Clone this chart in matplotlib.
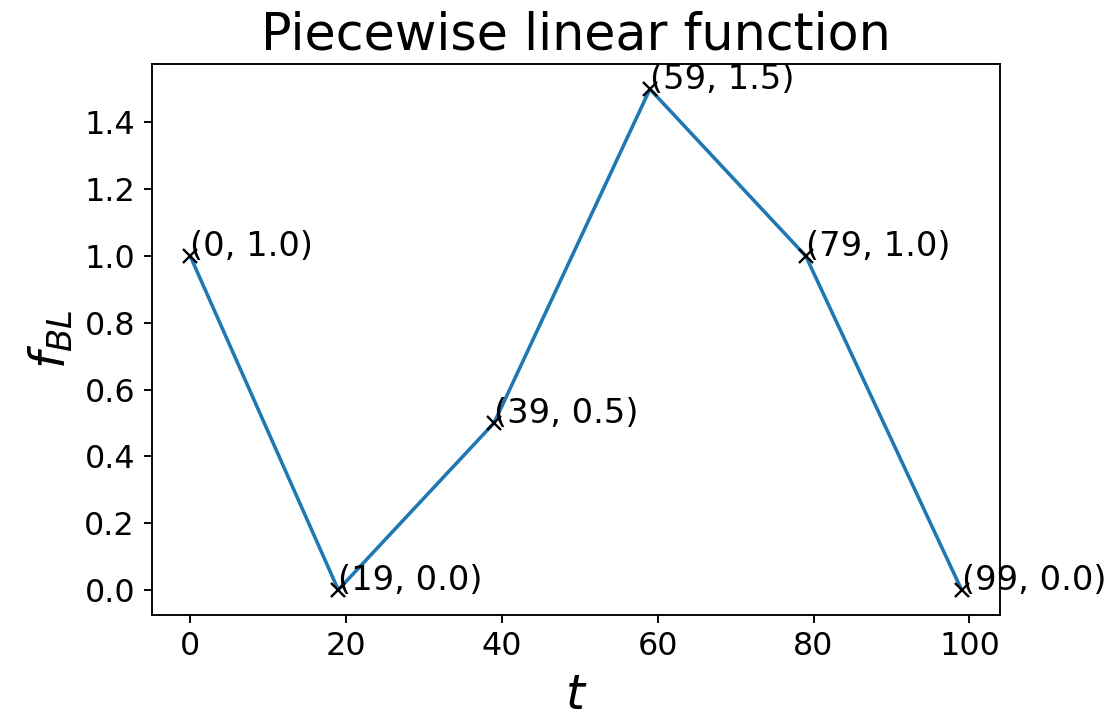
import numpy as np
import matplotlib.pyplot as plt

# breakpoints of the piecewise linear function
tPoints = [0, 19, 39, 59, 79, 99]
fPoints = [1.0, 0.0, 0.5, 1.5, 1.0, 0.0]
xTicks = [0, 20, 40, 60, 80, 100]
yTicks = [0.0, 0.2, 0.4, 0.6, 0.8, 1.0, 1.2, 1.4]

dpi = 170
fig = plt.figure(figsize=(1115/dpi, 720/dpi), dpi=dpi)
ax = fig.add_axes([0.136, 0.146, 0.761, 0.765])
ax.plot(tPoints, fPoints, color='tab:blue')
ax.plot(tPoints, fPoints, 'kx')
for t, f in zip(tPoints, fPoints):
    ax.annotate("({}, {})".format(t, f), (t, f), fontsize=14.3)
ax.set_xlabel("$t$", fontsize=20.5)
ax.set_ylabel("$f_{BL}$", fontsize=20.5)
ax.set_title("Piecewise linear function", fontsize=21.5)
ax.set_xticks(xTicks)
ax.set_yticks(yTicks)
ax.tick_params(labelsize=13.5)
fig.savefig("out.png", dpi=dpi)
